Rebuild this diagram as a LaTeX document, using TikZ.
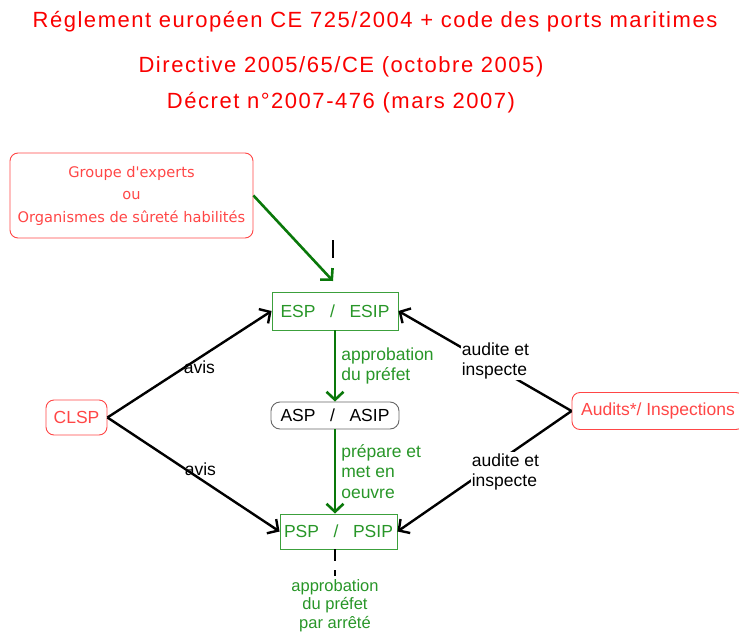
\documentclass[tikz,border=0pt]{standalone}
\usepackage{fontspec}
\setmainfont{Liberation Sans}
\newfontfamily\titlefont[LetterSpace=7]{Liberation Sans}
\newfontfamily\expertfont{DejaVu Sans}
\usetikzlibrary{arrows.meta,positioning}
\tikzset{% change default arrow tips
    >={Straight Barb[length=8pt,width=17pt]}
}
\definecolor{titlered}{RGB}{250,0,0}
\definecolor{boxred}{RGB}{255,70,70}
\definecolor{textgreen}{RGB}{40,150,40}
\definecolor{arrowgreen}{RGB}{10,120,10}
\definecolor{boxgreen}{RGB}{60,160,60}
\newcommand{\labfont}{\fontsize{17.5}{20.5}\selectfont}
\newcommand{\boxfont}{\fontsize{17.5}{20}\selectfont}

\begin{document}
\begin{tikzpicture}[x=1pt,y=-1pt,
    redbox/.style={draw=boxred, line width=0.9pt, rounded corners=8pt, text=boxred, inner sep=0pt},
    greenbox/.style={draw=boxgreen, line width=0.9pt, text=textgreen, inner sep=0pt, font=\boxfont},
    greenarrow/.style={->, draw=arrowgreen, line width=2.6pt},
    blackarrow/.style={->, draw=black, line width=2.4pt},
    titletext/.style={text=titlered, font=\titlefont\fontsize{22}{24}\selectfont},
    lab/.style={font=\labfont, align=left, inner sep=1pt}]
    \useasboundingbox (0,0) rectangle (739,632);

    % titles
    \node[titletext] (titleA) at (375,22) {Réglement européen CE 725/2004 + code des ports maritimes};
    \node[titletext] (titleB) at (341,67) {Directive 2005/65/CE (octobre 2005)};
    \node[titletext] (titleC) at (341,103) {Décret n°2007-476 (mars 2007)};

    % boxes
    \node[redbox, minimum width=243, minimum height=85, align=center,
          font=\expertfont\fontsize{14.6}{22.5}\selectfont] (groupe) at (131.5,195.5)
          {Groupe d'experts\\ou\\Organismes de sûreté habilités};
    \node[greenbox, minimum width=126, minimum height=38] (esp) at (335,311) {ESP~~~/~~~ESIP};
    \node[draw=black!60, line width=0.9pt, rounded corners=9pt, inner sep=0pt, font=\boxfont,
          minimum width=128, minimum height=27] (asp) at (335,415.5) {ASP~~~/~~~ASIP};
    \node[greenbox, minimum width=117, minimum height=35] (psp) at (338.5,531.5) {PSP~~~/~~~PSIP};
    \node[redbox, font=\boxfont, minimum width=61, minimum height=35] (clsp) at (76.5,417.5) {CLSP};
    \node[redbox, font=\boxfont, minimum width=172, minimum height=37] (audits) at (658,411) {Audits*/ Inspections};

    % experts -> ESP
    \coordinate (espin) at (333,281);
    \draw[greenarrow] (groupe.east) -- (espin);
    \draw[line width=1.6pt] (333,240) -- (333,258);

    % green chain
    \draw[greenarrow] (esp.south) -- (asp.north)
        node[midway, right=4pt, lab, text=textgreen] {approbation\\du préfet};
    \draw[greenarrow] (asp.south) -- (psp.north -| asp.south)
        node[midway, right=4pt, lab, text=textgreen] {prépare et\\met en\\oeuvre};
    \coordinate (pspout) at (335,580);
    \draw[line width=1.6pt, dash pattern=on 12pt off 9pt on 6pt] (psp.south -| pspout) -- (pspout);
    \node[lab, align=center, text=textgreen, below=-2pt of pspout, font=\fontsize{16.5}{18.5}\selectfont] (arrete) {approbation\\du préfet\\par arrêté};

    % CLSP
    \draw[blackarrow] (clsp.east) -- (esp.west)
        node[pos=0.56, below=1pt, lab] {avis};
    \draw[blackarrow] (clsp.east) -- (psp.west)
        node[pos=0.54, above=1pt, lab] {avis};

    % audits
    \draw[blackarrow] (audits.west) -- (esp.east)
        node[pos=0.44, fill=white, yshift=6pt, lab] {audite et\\inspecte};
    \draw[blackarrow] (audits.west) -- (psp.east)
        node[pos=0.38, fill=white, yshift=-15pt, lab] {audite et\\inspecte};
\end{tikzpicture}
\end{document}
